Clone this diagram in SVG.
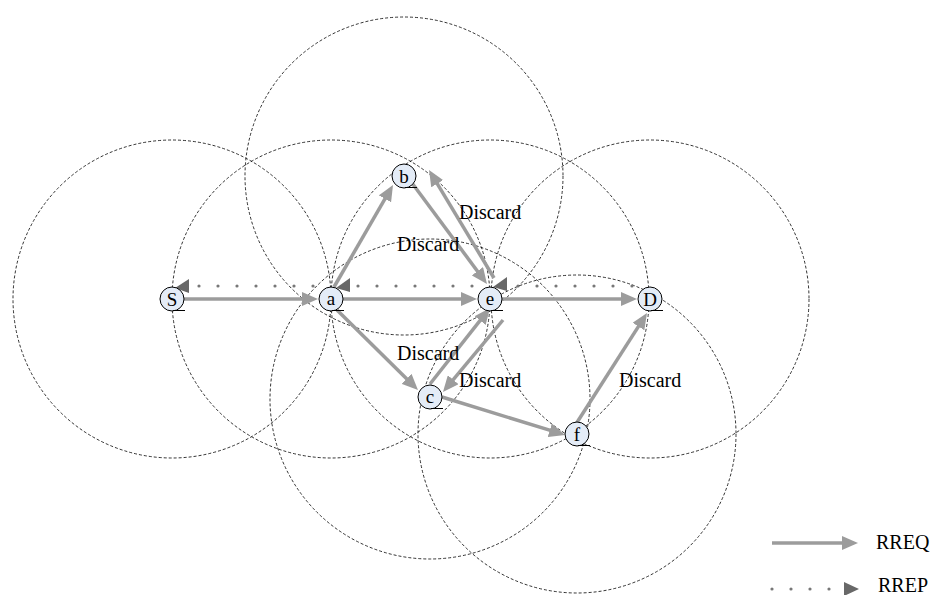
<svg xmlns="http://www.w3.org/2000/svg" width="930" height="595" viewBox="0 0 930 595">
<style>
.range{fill:none;stroke:#000;stroke-width:0.8;stroke-dasharray:3 2}
.req{stroke:#9c9c9c;stroke-width:3.5;fill:none;marker-end:url(#ah)}
.rep{stroke:#777;stroke-width:3.2;stroke-linecap:round;stroke-dasharray:0 19;fill:none}
.reph{fill:#686868}
.node{fill:#e4ecf7;stroke:#000;stroke-width:1}
.ul{stroke:#000;stroke-width:1}
text{font-family:"Times New Roman","Liberation Serif",Tinos,"DejaVu Serif",serif;fill:#000}
.lbl{font-size:19px;text-anchor:middle}
.txt{font-size:20px}
</style>
<defs>
<marker id="ah" markerUnits="userSpaceOnUse" markerWidth="16" markerHeight="14" viewBox="0 0 16 14" refX="10" refY="7" orient="auto">
<path d="M0,0 L16,7 L0,14 z" fill="#9c9c9c"/>
</marker>
</defs>
<rect width="930" height="595" fill="#fff"/>
<g id="ranges">
<circle class="range" cx="172" cy="299" r="159"/>
<circle class="range" cx="331" cy="299" r="159"/>
<circle class="range" cx="404" cy="176" r="159"/>
<circle class="range" cx="490" cy="299" r="159"/>
<circle class="range" cx="650" cy="299" r="159"/>
<circle class="range" cx="430" cy="399" r="160"/>
<circle class="range" cx="577" cy="434" r="159"/>
</g>
<g id="connectors">
<line class="req" x1="184" y1="299" x2="312" y2="299"/>
<line class="req" x1="343" y1="299" x2="471" y2="299"/>
<line class="req" x1="502" y1="299" x2="631" y2="299"/>
<line class="req" x1="334" y1="287" x2="390" y2="190.2"/>
<line class="req" x1="337" y1="310" x2="413.7" y2="385.8"/>
<line class="req" x1="412" y1="183" x2="483.4" y2="279.2"/>
<line class="req" x1="494" y1="278" x2="432.1" y2="175.1"/>
<line class="req" x1="430" y1="384" x2="486.3" y2="312.7"/>
<line class="req" x1="503" y1="320" x2="446.8" y2="387.4"/>
<line class="req" x1="442" y1="397" x2="559.3" y2="433.2"/>
<line class="req" x1="576" y1="424" x2="643.8" y2="318.1"/>
<path class="rep" d="M313,286 L195,286"/>
<polygon class="reph" points="175,288 189,279 189,293"/>
<path class="rep" d="M472,286 L352,286"/>
<polygon class="reph" points="336,288 350,278 350,292"/>
<path class="rep" d="M632,286 L510,286"/>
<polygon class="reph" points="493,287 507,277 507,291"/>
</g>
<g id="node-S"><circle class="node" cx="172" cy="299" r="12"/><line class="ul" x1="173" y1="310.5" x2="185" y2="310.5"/><text class="lbl" x="172" y="305.5" font-family="Liberation Serif, serif">S</text></g>
<g id="node-a"><circle class="node" cx="331" cy="299" r="12"/><line class="ul" x1="332" y1="310.5" x2="344" y2="310.5"/><text class="lbl" x="331" y="305" font-family="Liberation Serif, serif">a</text></g>
<g id="node-b"><circle class="node" cx="404" cy="176" r="12"/><line class="ul" x1="405" y1="187.5" x2="417" y2="187.5"/><text class="lbl" x="404" y="182.5" font-family="Liberation Serif, serif">b</text></g>
<g id="node-e"><circle class="node" cx="490" cy="299" r="12"/><line class="ul" x1="491" y1="310.5" x2="503" y2="310.5"/><text class="lbl" x="490" y="305" font-family="Liberation Serif, serif">e</text></g>
<g id="node-D"><circle class="node" cx="650" cy="299" r="12"/><line class="ul" x1="651" y1="310.5" x2="663" y2="310.5"/><text class="lbl" x="650" y="305.5" font-family="Liberation Serif, serif">D</text></g>
<g id="node-c"><circle class="node" cx="430" cy="397" r="12"/><line class="ul" x1="431" y1="408.5" x2="443" y2="408.5"/><text class="lbl" x="430" y="403" font-family="Liberation Serif, serif">c</text></g>
<g id="node-f"><circle class="node" cx="577" cy="434" r="12"/><line class="ul" x1="578" y1="445.5" x2="590" y2="445.5"/><text class="lbl" x="577" y="440.5" font-family="Liberation Serif, serif">f</text></g>
<g id="labels">
<text class="txt" x="459" y="219" font-family="Liberation Serif, serif">Discard</text>
<text class="txt" x="397" y="251" font-family="Liberation Serif, serif">Discard</text>
<text class="txt" x="397" y="360" font-family="Liberation Serif, serif">Discard</text>
<text class="txt" x="459" y="387" font-family="Liberation Serif, serif">Discard</text>
<text class="txt" x="619" y="387" font-family="Liberation Serif, serif">Discard</text>
</g>
<g id="legend">
<line class="req" x1="772" y1="543" x2="852" y2="543"/>
<text class="txt" x="876" y="549" font-family="Liberation Serif, serif">RREQ</text>
<path class="rep" d="M772,589 L830,589"/>
<polygon class="reph" points="844,582 859,589 844,596"/>
<text class="txt" x="878" y="592" font-family="Liberation Serif, serif">RREP</text>
</g>
</svg>
